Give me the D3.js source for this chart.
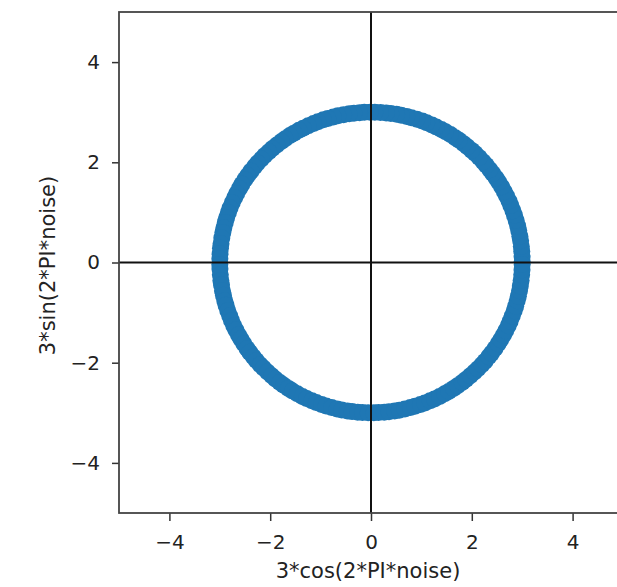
<!DOCTYPE html>
<html>
<head>
<meta charset="utf-8">
<script src="https://cdn.jsdelivr.net/npm/d3@7"></script>
<style>
  body { margin: 0; background: #fff; }
  text { font-family: "DejaVu Sans", sans-serif; fill: #222; }
</style>
</head>
<body>
<div id="dataviz"></div>
<script>
// noise values (angle / 2PI)
const noise = [
  0.001,0.006,0.012,0.017,0.023,0.028,0.034,0.039,0.045,0.051,
  0.056,0.062,0.067,0.073,0.078,0.084,0.090,0.095,0.101,0.106,
  0.112,0.117,0.123,0.129,0.134,0.140,0.145,0.151,0.156,0.162,
  0.168,0.173,0.179,0.184,0.190,0.195,0.201,0.207,0.212,0.218,
  0.223,0.229,0.234,0.240,0.246,0.251,0.257,0.262,0.268,0.273,
  0.279,0.285,0.290,0.296,0.301,0.307,0.312,0.318,0.324,0.329,
  0.335,0.340,0.346,0.351,0.357,0.363,0.368,0.374,0.379,0.385,
  0.390,0.396,0.402,0.407,0.413,0.418,0.424,0.429,0.435,0.441,
  0.446,0.452,0.457,0.463,0.468,0.474,0.480,0.485,0.491,0.496,
  0.502,0.507,0.513,0.519,0.524,0.530,0.535,0.541,0.546,0.552,
  0.558,0.563,0.569,0.574,0.580,0.585,0.591,0.597,0.602,0.608,
  0.613,0.619,0.624,0.630,0.636,0.641,0.647,0.652,0.658,0.663,
  0.669,0.675,0.680,0.686,0.691,0.697,0.702,0.708,0.714,0.719,
  0.725,0.730,0.736,0.741,0.747,0.753,0.758,0.764,0.769,0.775,
  0.780,0.786,0.792,0.797,0.803,0.808,0.814,0.819,0.825,0.831,
  0.836,0.842,0.847,0.853,0.858,0.864,0.870,0.875,0.881,0.886,
  0.892,0.897,0.903,0.909,0.914,0.920,0.925,0.931,0.936,0.942,
  0.948,0.953,0.959,0.964,0.970,0.975,0.981,0.987,0.992,0.998
];
const radius = 3;
const xTicks = [-4, -2, 0, 2, 4];
const yTicks = [-4, -2, 0, 2, 4];
const xDomain = [-5, 5];
const yDomain = [-5, 5];

var W = 617, H = 587;
var margin = {top: 12, right: -6, bottom: 74, left: 119};
var width = W - margin.left - margin.right;
var height = H - margin.top - margin.bottom;

var svg = d3.select("#dataviz")
  .append("svg")
    .attr("width", W)
    .attr("height", H)
  .append("g")
    .attr("transform", "translate(" + margin.left + "," + margin.top + ")");

var x = d3.scaleLinear().domain(xDomain).range([0, width]);
var y = d3.scaleLinear().domain(yDomain).range([height, 0]);

var fmt = function(d) { return d < 0 ? "\u2212" + Math.abs(d) : d; };

// points
svg.append("g")
  .selectAll("circle")
  .data(noise)
  .enter()
  .append("circle")
    .attr("cx", function(d) { return x(radius * Math.cos(2 * Math.PI * d)); })
    .attr("cy", function(d) { return y(radius * Math.sin(2 * Math.PI * d)); })
    .attr("r", 8.5)
    .attr("fill", "#1f77b4");

// axhline / axvline at 0
svg.append("line")
  .attr("x1", 0).attr("x2", width)
  .attr("y1", y(0)).attr("y2", y(0))
  .attr("stroke", "#111").attr("stroke-width", 2);
svg.append("line")
  .attr("x1", x(0)).attr("x2", x(0))
  .attr("y1", 0).attr("y2", height)
  .attr("stroke", "#111").attr("stroke-width", 2);

// axes
var xAxis = svg.append("g")
  .attr("transform", "translate(0," + height + ")")
  .call(d3.axisBottom(x).tickValues(xTicks).tickFormat(fmt).tickSize(8).tickPadding(14).tickSizeOuter(0));
var yAxis = svg.append("g")
  .call(d3.axisLeft(y).tickValues(yTicks).tickFormat(fmt).tickSize(7).tickPadding(12).tickSizeOuter(0));

[xAxis, yAxis].forEach(function(a) {
  a.select(".domain").remove();
  a.selectAll(".tick line").attr("stroke", "#333").attr("stroke-width", 1.5);
  a.selectAll(".tick text").style("font-size", "20px").attr("fill", "#222");
});

// frame
svg.append("rect")
  .attr("x", 0).attr("y", 0)
  .attr("width", width).attr("height", height)
  .attr("fill", "none")
  .attr("stroke", "#444")
  .attr("stroke-width", 1.8);

svg.append("text")
  .attr("x", width / 2 - 3)
  .attr("y", height + 65)
  .style("text-anchor", "middle")
  .style("font-size", "21px")
  .text("3*cos(2*PI*noise)");

svg.append("text")
  .attr("transform", "rotate(-90)")
  .attr("x", -height / 2 - 3)
  .attr("y", -margin.left + 55)
  .style("text-anchor", "middle")
  .style("font-size", "21px")
  .text("3*sin(2*PI*noise)");
</script>
</body>
</html>
